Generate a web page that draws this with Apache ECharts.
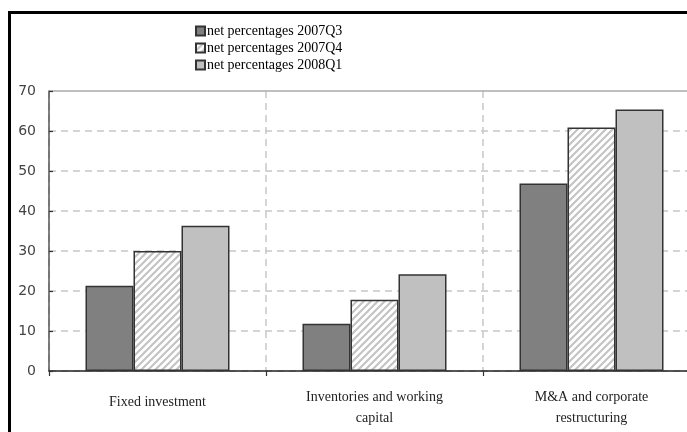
<!DOCTYPE html>
<html>
<head>
<meta charset="utf-8">
<script src="https://cdn.jsdelivr.net/npm/echarts@6/dist/echarts.min.js"></script>
<style>
  html, body { margin: 0; padding: 0; background: #fff; }
  #frame { position: absolute; left: 8px; top: 11px; width: 690px; height: 430px;
           border-left: 3px solid #000; border-top: 3px solid #000; }
  #main { position: absolute; left: 0; top: 0; width: 687px; height: 432px; }
</style>
</head>
<body>
<div id="frame"></div>
<div id="main"></div>
<script>
var categories = ['Fixed investment', 'Inventories and working\ncapital', 'M&A and corporate\nrestructuring'];
var seriesNames = ['net percentages 2007Q3', 'net percentages 2007Q4', 'net percentages 2008Q1'];
var q3_2007 = [21.3, 11.8, 46.9];
var q4_2007 = [30.0, 17.8, 60.9];
var q1_2008 = [36.3, 24.2, 65.4];
var yTicks = [0, 10, 20, 30, 40, 50, 60, 70];

// diagonal hatch for the middle series
function hatch() {
  var c = document.createElement('canvas');
  c.width = 7; c.height = 7;
  var g = c.getContext('2d');
  g.fillStyle = '#fff';
  g.fillRect(0, 0, 7, 7);
  g.strokeStyle = '#c4c4c4';
  g.lineWidth = 2.2;
  g.beginPath();
  g.moveTo(-1, 8); g.lineTo(8, -1);
  g.moveTo(-4.5, 4.5); g.lineTo(4.5, -4.5);
  g.moveTo(2.5, 11.5); g.lineTo(11.5, 2.5);
  g.stroke();
  return c;
}

var chart = echarts.init(document.getElementById('main'));
var serif = 'Liberation Serif';
var border = { borderColor: '#333', borderWidth: 1.5 };

// single-line label sits a bit lower in the original
var xData = categories.map(function (c) {
  return c.indexOf('\n') < 0 ? { value: c, textStyle: { padding: [5, 0, 0, 0] } } : c;
});

var option = {
  animation: false,
  legend: {
    orient: 'vertical',
    left: 190,
    top: 18,
    icon: 'rect',
    itemWidth: 9,
    itemHeight: 9,
    itemGap: 1,
    data: seriesNames,
    textStyle: { fontFamily: serif, fontSize: 14, color: '#000', lineHeight: 16, padding: [0, 0, 0, -3] }
  },
  grid: { left: 49, top: 91, right: -13, bottom: 61, outerBoundsMode: 'none' },
  xAxis: [{
    type: 'category',
    data: xData,
    axisLine: { lineStyle: { color: '#222', width: 1.5 } },
    axisTick: { show: true, length: 5, lineStyle: { color: '#333', width: 1.2 } },
    axisLabel: { fontFamily: serif, fontSize: 14, color: '#222', lineHeight: 21, margin: 16, interval: 0 },
    splitLine: { show: true, lineStyle: { color: '#c8c8c8', width: 1.5, type: [7, 5] } }
  }, {
    type: 'category',
    position: 'top',
    data: categories,
    axisLine: { lineStyle: { color: '#aaa', width: 1.5 } },
    axisTick: { show: false },
    axisLabel: { show: false }
  }],
  yAxis: {
    type: 'value',
    min: yTicks[0],
    max: yTicks[yTicks.length - 1],
    interval: 10,
    axisLine: { show: true, lineStyle: { color: '#555', width: 1.5 } },
    axisTick: { show: true, inside: false, length: -4, lineStyle: { color: '#333', width: 1.2 } },
    axisLabel: { fontFamily: 'DejaVu Sans', fontSize: 14, color: '#444', margin: 13 },
    splitLine: { show: true, showMaxLine: false, lineStyle: { color: '#c8c8c8', width: 1.5, type: [7, 5] } }
  },
  series: [{
    name: seriesNames[0], type: 'bar', data: q3_2007, barWidth: 48, barGap: '0%',
    itemStyle: Object.assign({ color: '#808080' }, border)
  }, {
    name: seriesNames[1], type: 'bar', data: q4_2007, barWidth: 48, barGap: '0%',
    itemStyle: Object.assign({ color: { image: hatch(), repeat: 'repeat' } }, border)
  }, {
    name: seriesNames[2], type: 'bar', data: q1_2008, barWidth: 48, barGap: '0%',
    itemStyle: Object.assign({ color: '#c0c0c0' }, border)
  }]
};
chart.setOption(option);
</script>
</body>
</html>
